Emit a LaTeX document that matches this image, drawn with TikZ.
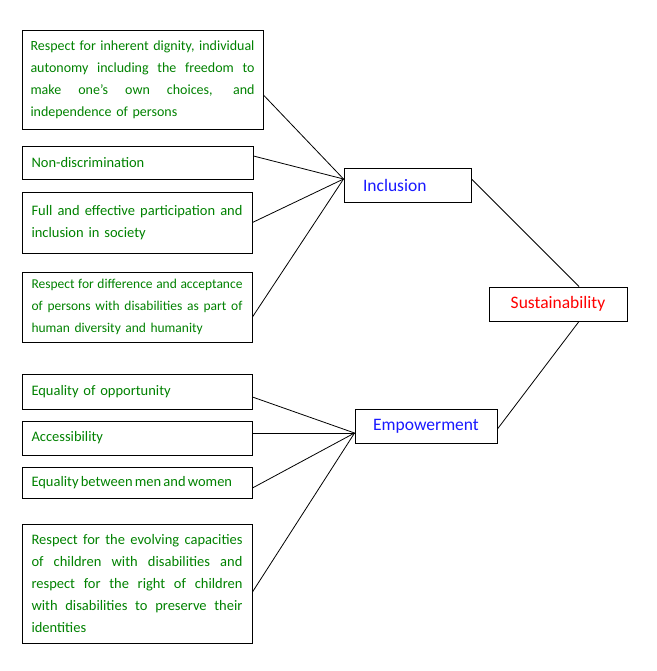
\documentclass[tikz,border=0pt]{standalone}
\usepackage{fontspec}
\setmainfont{Carlito}
\usetikzlibrary{calc}
\definecolor{txtgreen}{RGB}{0,130,0}
\definecolor{txtblue}{RGB}{25,25,255}
\definecolor{txtred}{RGB}{255,0,0}
\newcommand{\jline}[2]{\leavevmode\hbox to #1{\spaceskip=0.25em plus 1fil\relax #2}}
\begin{document}
\begin{tikzpicture}[x=1pt,y=-1pt,
  itembox/.style={draw, line width=0.9pt, inner xsep=9.5pt, inner ysep=0pt,
    align=left, text=txtgreen, font=\fontsize{14.5}{22}\selectfont},
  keybox/.style={draw, line width=0.9pt, inner sep=0pt, minimum height=34pt,
    font=\fontsize{17.5}{21}\selectfont},
  link/.style={line width=0.8pt}]
\useasboundingbox[fill=white] (0,0) rectangle (656,671);

\node[itembox, font=\fontsize{14}{22}\selectfont, inner xsep=8.5pt, minimum width=241pt, minimum height=99pt, text width=224pt] (b1) at (142.5,79.5)
  {\jline{224pt}{Respect for inherent dignity, individual}\\
   \jline{224pt}{autonomy including the freedom to}\\
   \jline{224pt}{make one’s own choices, and}\\
   independence of persons};
\node[itembox, minimum width=231pt, minimum height=33pt, text width=212pt] (b2) at (137.5,162.5)
  {Non-discrimination};
\node[itembox, minimum width=230pt, minimum height=61pt, text width=211pt] (b3) at (137,222.5)
  {\jline{211pt}{Full and effective participation and}\\
   inclusion in society};
\node[itembox, font=\fontsize{13.5}{22}\selectfont, minimum width=230pt, minimum height=70pt, text width=211pt] (b4) at (137,307)
  {\jline{211pt}{Respect for difference and acceptance}\\
   \jline{211pt}{of persons with disabilities as part of}\\
   human diversity and humanity};
\node[itembox, minimum width=230pt, minimum height=35pt, text width=211pt] (b5) at (137,391.5)
  {Equality of opportunity};
\node[itembox, minimum width=230pt, minimum height=34pt, text width=211pt] (b6) at (137,438)
  {Accessibility};
\node[itembox, minimum width=230pt, minimum height=31pt, text width=211pt] (b7) at (137,482.5)
  {\spaceskip=0.15em Equality between men and women};
\node[itembox, minimum width=230pt, minimum height=119pt, text width=211pt] (b8) at (137,583.5)
  {\jline{211pt}{Respect for the evolving capacities}\\
   \jline{211pt}{of children with disabilities and}\\
   \jline{211pt}{respect for the right of children}\\
   \jline{211pt}{with disabilities to preserve their}\\
   identities};

\node[keybox, text=txtblue, minimum width=127pt, text width=89pt, inner xsep=19pt, align=left] (inc) at (407.5,185) {Inclusion};
\node[keybox, text=txtred, minimum width=138pt] (sus) at (558,304) {Sustainability};
\node[keybox, text=txtblue, minimum width=142pt] (emp) at (426,426) {Empowerment};

\coordinate (incin) at ([yshift=6pt]inc.west);
\coordinate (empin) at ([yshift=-7pt]emp.west);

\draw[link] ([yshift=-15.5pt]b1.east) -- (incin);
\draw[link] ([yshift=6.5pt]b2.east) -- (incin);
\draw[link] (b3.east) -- (incin);
\draw[link] ([yshift=-10pt]b4.east) -- (incin);

\draw[link] ([yshift=-5.5pt]b5.east) -- (empin);
\draw[link] ([yshift=5pt]b6.east) -- (empin);
\draw[link] ([yshift=-5.5pt]b7.east) -- (empin);
\draw[link] ([yshift=-8.5pt]b8.east) -- (empin);

\draw[link] ([yshift=6pt]inc.east) -- ([xshift=21pt]sus.north);
\draw[link] ([xshift=21pt]sus.south) -- ([yshift=-3pt]emp.east);
\end{tikzpicture}
\end{document}
